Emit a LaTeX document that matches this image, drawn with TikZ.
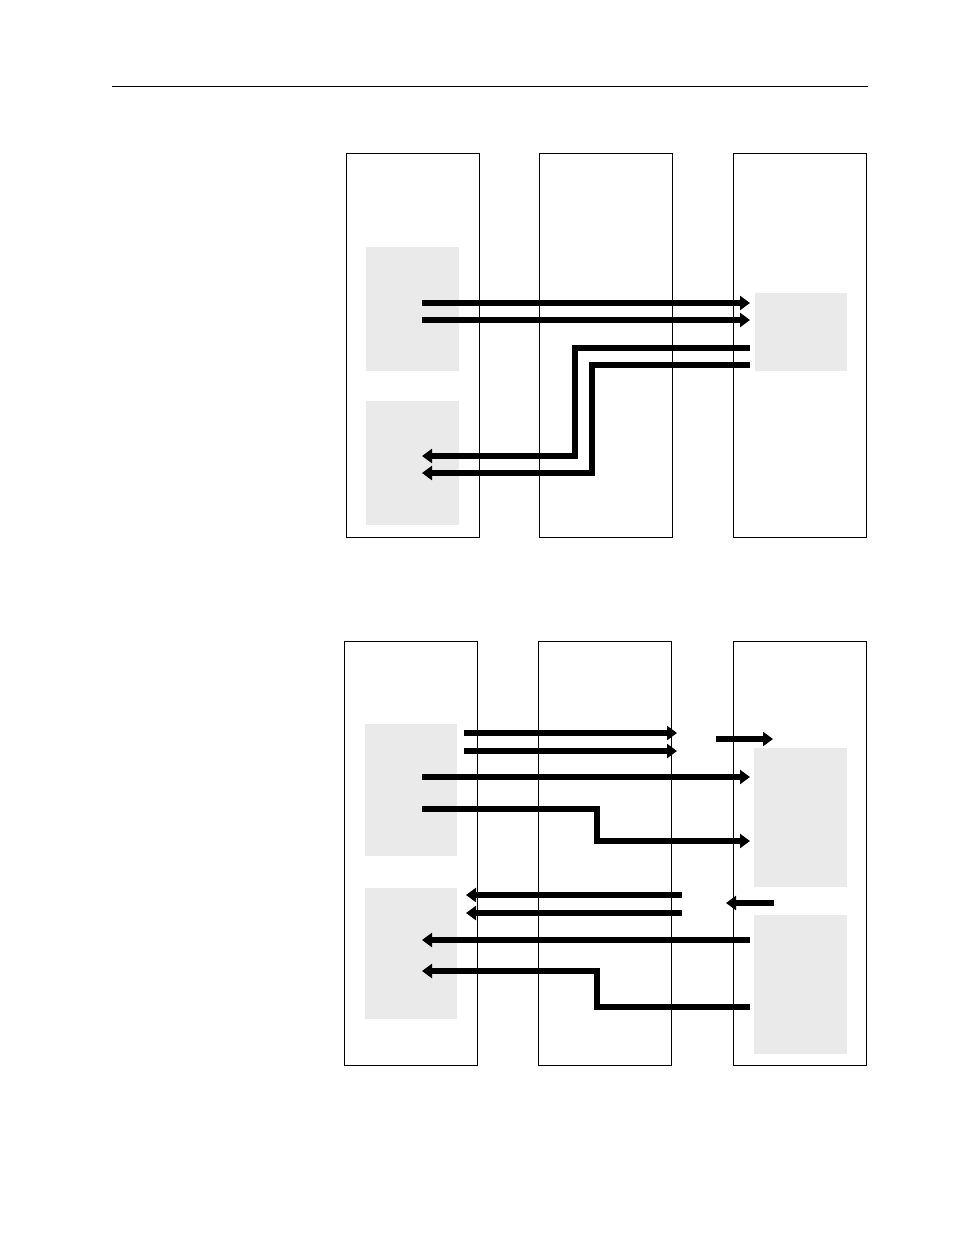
\documentclass[tikz,border=0pt]{standalone}
\usepackage{tikz}
\usepackage{xcolor}
\usetikzlibrary{arrows.meta}

\definecolor{grisbloc}{RGB}{234,234,234}

\tikzset{
    colonne/.style={draw, line width=1pt, inner sep=0pt, minimum width=133pt},
    bloc/.style={fill=grisbloc, inner sep=0pt},
    trait/.style={line width=6pt},
    fleche/.style={line width=6pt, -{Triangle[length=10pt,width=14pt]}}
}

\begin{document}
\begin{tikzpicture}[x=1pt,y=-1pt]
        \useasboundingbox (0,0) rectangle (954,1235);
        % Filet d'en-tete
            \coordinate (fg) at (112,86);
            \coordinate (fd) at (868,86);
            \draw[line width=1pt] (fg) -- (fd);
        %%%%%%%%%%%%%%%%%%%%%%%%%%%%%%%%%%%%%%
        % Schema 1
        %%%%%%%%%%%%%%%%%%%%%%%%%%%%%%%%%%%%%%
        % Blocs gris
            \node[bloc, minimum width=93pt, minimum height=124pt] (hg1) at (412.5,309) {};
            \node[bloc, minimum width=93pt, minimum height=124pt] (hg2) at (412.5,463) {};
            \node[bloc, minimum width=92pt, minimum height=78pt] (hd1) at (801,332) {};
        % Colonnes
            \node[colonne, minimum height=384pt] (hc1) at (412.5,345) {};
            \node[colonne, minimum height=384pt] (hc2) at (606,345) {};
            \node[colonne, minimum height=384pt] (hc3) at (799.5,345) {};
        % Extremites
            \coordinate (ha1) at (422,303); \coordinate (hb1) at (750,303);
            \coordinate (ha2) at (422,320); \coordinate (hb2) at (750,320);
            \coordinate (hr1) at (750,348); \coordinate (hk1) at (575,456); \coordinate (hl1) at (422,456);
            \coordinate (hr2) at (750,365); \coordinate (hk2) at (592,473); \coordinate (hl2) at (422,473);
        % Fleches
            \draw[fleche] (ha1) -- (hb1); % aller
            \draw[fleche] (ha2) -- (hb2); % aller
            \draw[fleche] (hr1) -| (hk1) -- (hl1); % retour
            \draw[fleche] (hr2) -| (hk2) -- (hl2); % retour
        %%%%%%%%%%%%%%%%%%%%%%%%%%%%%%%%%%%%%%
        % Schema 2
        %%%%%%%%%%%%%%%%%%%%%%%%%%%%%%%%%%%%%%
        % Blocs gris
            \node[bloc, minimum width=92pt, minimum height=132pt] (bg1) at (411,790) {};
            \node[bloc, minimum width=92pt, minimum height=131pt] (bg2) at (411,953.5) {};
            \node[bloc, minimum width=93pt, minimum height=139pt] (bd1) at (800.5,817.5) {};
            \node[bloc, minimum width=93pt, minimum height=139pt] (bd2) at (800.5,984.5) {};
        % Colonnes
            \node[colonne, minimum height=424pt] (bc1) at (411,853) {};
            \node[colonne, minimum height=424pt] (bc2) at (605,853) {};
            \node[colonne, minimum height=424pt] (bc3) at (799.5,853) {};
        % Extremites
            \coordinate (bp1) at (464,733); \coordinate (bq1) at (677,733);
            \coordinate (bp2) at (464,751); \coordinate (bq2) at (677,751);
            \coordinate (bs1) at (716,739); \coordinate (bt1) at (773,739);
            \coordinate (bp3) at (422,777); \coordinate (bq3) at (750,777);
            \coordinate (bp4) at (422,809); \coordinate (bk3) at (597,841); \coordinate (bq4) at (750,841);
            \coordinate (bu1) at (682,895); \coordinate (bv1) at (466,895);
            \coordinate (bu2) at (682,913); \coordinate (bv2) at (466,913);
            \coordinate (bu3) at (774,903); \coordinate (bv3) at (726,903);
            \coordinate (bu4) at (750,940); \coordinate (bv4) at (422,940);
            \coordinate (bu5) at (750,1007); \coordinate (bk4) at (597,971); \coordinate (bv5) at (422,971);
        % Fleches aller
            \draw[fleche] (bp1) -- (bq1);
            \draw[fleche] (bp2) -- (bq2);
            \draw[fleche] (bs1) -- (bt1);
            \draw[fleche] (bp3) -- (bq3);
            \draw[fleche] (bp4) -| (bk3) -- (bq4);
        % Fleches retour
            \draw[fleche] (bu1) -- (bv1);
            \draw[fleche] (bu2) -- (bv2);
            \draw[fleche] (bu3) -- (bv3);
            \draw[fleche] (bu4) -- (bv4);
            \draw[fleche] (bu5) -| (bk4) -- (bv5);
\end{tikzpicture}
\end{document}
